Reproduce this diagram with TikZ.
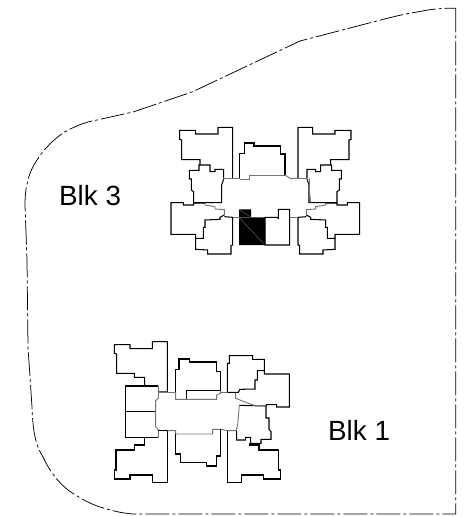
\documentclass[tikz,border=0pt]{standalone}
\usepackage{fontspec}
\setmainfont{Liberation Sans}
\tikzset{
  wall/.style={draw=black,line width=1.05pt,line join=miter},
  thin wall/.style={draw=black!55,line width=0.9pt},
  heavy wall/.style={draw=black,line width=1.35pt},
  site/.style={draw=black,line width=0.75pt,dash pattern=on 24pt off 3pt on 3pt off 3pt},
  blk/.style={font=\fontsize{27.8pt}{30pt}\selectfont,inner sep=0pt,anchor=base west},
  zoomed/.style={x=0.33333pt,y=-0.33333pt}
}
\newcommand{\blkthreehalf}{%
  \draw[wall] (248,205)--(248,52)--(204,52)--(204,72)--(137,72)--(137,61)--(89,61)--(89,88)--(95,90)--(95,149)--(150,149)--(150,165);
  \draw[wall] (221,205)--(221,178)--(195,178)--(195,185)--(180,185)--(180,165)--(147,165)--(147,181)--(118,181)--(118,207)--(124,207)--(124,240)--(131,245)--(131,278);
  \draw[wall] (221,207)--(215,225)--(215,278)--(131,278);
  \draw[thin wall] (221,205)--(248,205);
  \draw[thin wall] (165,279)--(165,285)--(195,290)--(195,297)--(223,299)--(223,315);
  \draw[wall] (165,279)--(131,279)--(131,285)--(100,285)--(100,278)--(63,278)--(63,373)--(137,373)--(137,385)--(160,385)--(160,352)--(165,352)--(165,330)--(210,328)--(210,322)--(223,315);
  \draw[wall] (137,385)--(137,418)--(173,420)--(173,432)--(243,432)--(243,407)--(248,405)--(248,322)--(223,320);
}
\begin{document}
\begin{tikzpicture}[x=1pt,y=-1pt]
\useasboundingbox (0,0) rectangle (473,517);
% site boundary
\draw[site] (455.7,8.3) -- (455.7,514) -- (133,514)
  .. controls (120,513) and (110,510) .. (100,507)
  .. controls (88,503) and (78,497) .. (68,490)
  .. controls (57,481) and (49,470) .. (43,457)
  .. controls (37,447) and (33,437) .. (32,407)
  -- (28,347) -- (27,260) -- (25,205)
  .. controls (25,195) and (26,187) .. (28,180)
  .. controls (30,172) and (33,166) .. (37,160)
  .. controls (44,149) and (53,140) .. (63,133)
  .. controls (73,127) and (85,122) .. (97,120)
  -- (133,112) -- (192,92) -- (300,41) -- (373,22)
  .. controls (392,17) and (404,14) .. (417,12)
  .. controls (428,10) and (436,8) .. (455.7,8.3);
% Blk 3
\begin{scope}[shift={(150,110)},zoomed]
  \blkthreehalf
  \begin{scope}[xshift=230.67pt,xscale=-1]
    \blkthreehalf
  \end{scope}
  \draw[wall] (269,205)--(269,130)--(283,130)--(283,99)--(312,99)--(312,108)--(391,108)--(391,132)--(405,132)--(405,195);
  \draw[thin wall] (405,195)--(299,195)--(299,208)--(269,208);
  \draw[thin wall] (405,195)--(420,205)--(445,205);
  \draw[thin wall] (248,205)--(269,205);
  \draw[thin wall] (478,205)--(478,240)--(482,278);
  \draw[thin wall] (248,322)--(267,322);
  \draw[thin wall] (419,322)--(445,322);
  \fill[black] (267,298)--(303,298)--(303,322)--(345,322)--(345,405)--(267,405)--cycle;
  \draw[draw=black!55,line width=0.4pt] (267,322)--(345,405) (267,298)--(303,322)--(267,322);
  \draw[wall] (345,322)--(380,322)--(385,325)--(385,298)--(419,298)--(419,405)--(345,405)--cycle;
\end{scope}
% Blk 1
\begin{scope}[shift={(100,330)},zoomed]
  \draw[wall] (175,186)--(202,186)--(202,35)--(157,35)--(157,56)--(90,56)--(90,44)--(43,44)--(43,70)--(50,72)--(50,130)--(103,130)--(103,142)--(134,142)--(134,168);
  \draw[heavy wall] (175,168)--(77,168)--(77,322)--(175,322);
  \draw[heavy wall] (77,245)--(167,245);
  \draw[thin wall] (175,168)--(175,205)--(167,212)--(167,290)--(175,300)--(175,322);
  \draw[thin wall] (175,186)--(227,186);
  \draw[heavy wall] (227,186)--(227,118)--(237,118)--(237,87)--(268,87)--(268,96)--(350,96)--(350,124)--(362,124)--(362,182)--(260,182)--(260,208);
  \draw[thin wall] (227,186)--(227,208)--(350,208)--(350,195)--(362,190)--(362,182);
  \draw[thin wall] (362,186)--(382,186);
  \draw[wall] (175,302)--(202,302)--(202,457)--(157,457)--(157,435)--(90,435)--(90,447)--(43,447)--(43,420)--(48,420)--(48,360)--(103,360)--(103,345)--(134,345)--(134,322);
  \draw[thin wall] (202,302)--(227,302)--(227,312)--(338,312)--(338,298)--(362,298)--(382,302)--(408,302);
  \draw[heavy wall] (227,312)--(227,372)--(242,372)--(242,398)--(320,398)--(320,408)--(350,408)--(350,378)--(362,378)--(362,298);
  \draw[wall] (382,302)--(382,457)--(425,457)--(425,435)--(490,435)--(490,447)--(542,447)--(542,420)--(535,420)--(535,360)--(477,360)--(477,345)--(450,345)--(450,340);
  \draw[thin wall] (408,302)--(413,285)--(418,226);
  \draw[wall] (418,226)--(498,228)--(498,264)--(507,264)--(507,298)--(513,305)--(513,328)--(483,328)--(483,340)--(452,340)--(452,322)--(437,322)--(437,330)--(410,330)--(410,302);
  \draw[wall] (382,186)--(382,100)--(388,100)--(388,77)--(458,77)--(458,88)--(493,88)--(493,122)--(472,122)--(472,150)--(465,150)--(465,177)--(420,178)--(415,187)--(382,187);
  \draw[wall] (493,122)--(493,132)--(568,132)--(568,231)--(530,231)--(530,224)--(500,224)--(498,228);
  \draw[thin wall] (498,228)--(462,226)--(440,218)--(425,212)--(407,205)--(407,188);
\end{scope}
\node[blk] (blk3) at (59,205) {Blk 3};
\node[blk] (blk1) at (328,440) {Blk 1};
\end{tikzpicture}
\end{document}
